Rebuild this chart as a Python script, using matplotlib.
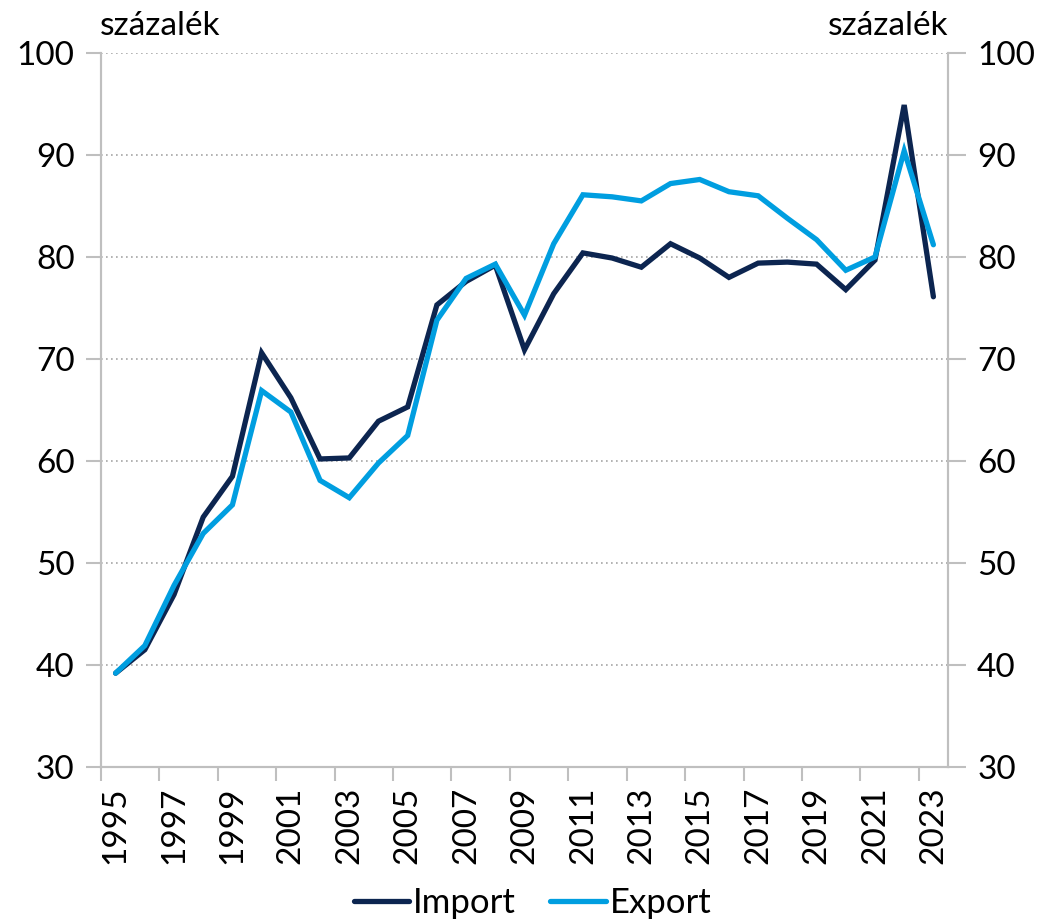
import numpy as np
import matplotlib
matplotlib.use("Agg")
import matplotlib.pyplot as plt

plt.rcParams['font.family'] = ['Lato', 'DejaVu Sans']

years = list(range(1995, 2024))
import_vals = [39.2, 41.5, 46.9, 54.5, 58.5, 70.6, 66.2, 60.2, 60.3, 63.9,
               65.3, 75.3, 77.6, 79.2, 70.9, 76.4, 80.4, 79.9, 79.0, 81.3,
               79.9, 78.0, 79.4, 79.5, 79.3, 76.8, 79.7, 94.9, 76.1]
export_vals = [39.2, 41.9, 47.8, 52.9, 55.7, 66.9, 64.8, 58.1, 56.4, 59.8,
               62.5, 73.8, 77.9, 79.3, 74.3, 81.3, 86.1, 85.9, 85.5, 87.2,
               87.6, 86.4, 86.0, 83.8, 81.7, 78.7, 80.0, 90.4, 81.2]
y_ticks = [30, 40, 50, 60, 70, 80, 90, 100]
unit_label = "százalék"

c_import = "#0c2550"
c_export = "#009ee0"
grey = "#bfbfbf"
fs = 24

fig = plt.figure(figsize=(10.44, 9.21), dpi=100)
ax = fig.add_axes([101/1044, 1-767/921, 847/1044, 714/921])

x = np.arange(len(years))
ax.plot(x, import_vals, color=c_import, lw=3.8, label="Import", solid_capstyle='round', solid_joinstyle='miter')
ax.plot(x, export_vals, color=c_export, lw=3.8, label="Export", solid_capstyle='round', solid_joinstyle='miter')

ax.set_xlim(-0.5, len(years) - 0.5)
ax.set_ylim(30, 100)
ax.set_yticks(y_ticks)
ax.set_yticklabels([str(v) for v in y_ticks], fontsize=fs)
for v in y_ticks[1:]:
    ax.axhline(v, color="#a6a6a6", lw=1.2, ls=(0, (1, 2)), zorder=0)

# year labels on odd years, tick marks on category boundaries
ax.set_xticks(x[::2])
ax.set_xticklabels([str(y) for y in years[::2]], rotation=90, fontsize=fs)
ax.set_xticks(np.arange(-0.5, len(years) - 1, 2), minor=True)
ax.tick_params(axis='x', which='major', length=0, pad=14)
ax.tick_params(axis='x', which='minor', length=10, color=grey, width=1.5)
ax.tick_params(axis='y', length=11, color=grey, width=1.5, pad=8)

ax2 = ax.twinx()
ax2.set_ylim(30, 100)
ax2.set_yticks(y_ticks)
ax2.set_yticklabels([str(v) for v in y_ticks], fontsize=fs)
ax2.tick_params(axis='y', length=13, color=grey, width=1.5, pad=8)

for a in (ax, ax2):
    a.spines['top'].set_visible(False)
    for s in ('left', 'right', 'bottom'):
        a.spines[s].set_color(grey)
        a.spines[s].set_linewidth(1.5)

fig.text(100/1044, 1-35/921, unit_label, fontsize=fs, ha='left', va='baseline')
fig.text(948/1044, 1-35/921, unit_label, fontsize=fs, ha='right', va='baseline')

fig.legend(loc='center', bbox_to_anchor=(0.51, 1-903/921), ncol=2, frameon=False,
           fontsize=fs + 1, handlelength=1.6, handletextpad=0.1, columnspacing=1.0)

fig.savefig("out.png", dpi=100)
